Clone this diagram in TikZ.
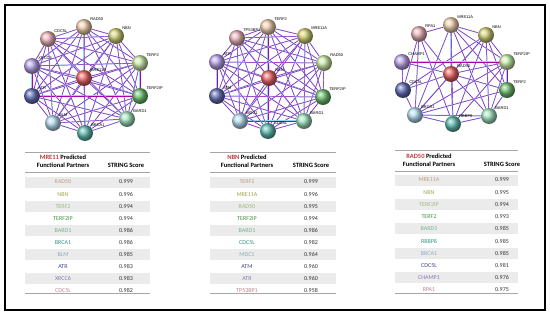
\documentclass[tikz,border=0pt]{standalone}
\usepackage{fontspec}
\setmainfont{Carlito}
\newfontfamily\netfont{Liberation Sans}
\usetikzlibrary{backgrounds}

\definecolor{hubred}{HTML}{E84A4A}
\definecolor{g1}{HTML}{EEC8A2}
\definecolor{g2}{HTML}{CACA62}
\definecolor{g3}{HTML}{C6E89C}
\definecolor{g4}{HTML}{58B45A}
\definecolor{g5}{HTML}{92E0B4}
\definecolor{g6}{HTML}{46B4A6}
\definecolor{g7}{HTML}{AAD8F0}
\definecolor{g8}{HTML}{4A58AA}
\definecolor{g9}{HTML}{AE96E6}
\definecolor{g10}{HTML}{E6A6AE}

\begin{document}
\begin{tikzpicture}[x=1pt, y=-1pt,
    prot/.style={circle, minimum size=16pt, inner sep=0pt, ball color=#1!85!white, label distance=0.5pt},
    lbl/.style={font=\netfont\fontsize{4}{4.5}\selectfont, inner sep=0.3pt},
    link/.style={draw=cyan!45, line width=0.3pt, double=violet!65!magenta, double distance=0.45pt},
    band/.style={fill=black!8, draw=none},
    rule/.style={draw=black!35, line width=0.5pt},
    head/.style={font=\fontsize{6.5}{7.5}\selectfont\bfseries, align=center, inner sep=0pt},
    gene/.style={font=\fontsize{6}{6.5}\selectfont, inner sep=0pt},
    score/.style={font=\fontsize{6}{6.5}\selectfont, text=black!80, inner sep=0pt}
  ]

  \useasboundingbox (0,0) rectangle (550,316);
  \draw[line width=1.2pt] (5,5) rectangle (545,310);

  % MRE11 network
  \node[prot=hubred, label={[lbl]north east:MRE11A}] (A0) at (84,78) {};
  \node[prot=g1, label={[lbl]north east:RAD50}] (A1) at (84,27) {};
  \node[prot=g2, label={[lbl]north east:NBN}] (A2) at (116,36) {};
  \node[prot=g3, label={[lbl]north east:TERF2}] (A3) at (140,63) {};
  \node[prot=g4, label={[lbl]north east:TERF2IP}] (A4) at (140,96) {};
  \node[prot=g5, label={[lbl]north east:BARD1}] (A5) at (127,119) {};
  \node[prot=g6, label={[lbl]north east:BRCA1}] (A6) at (85,133) {};
  \node[prot=g7, label={[lbl]north east:BLM}] (A7) at (53,123) {};
  \node[prot=g8, label={[lbl]north east:ATR}] (A8) at (32,96) {};
  \node[prot=g9, label={[lbl]north east:XRCC6}] (A9) at (32,66) {};
  \node[prot=g10, label={[lbl]north east:CDC5L}] (A10) at (48,39) {};

  % NBN network
  \node[prot=hubred, label={[lbl]north east:NBN}] (B0) at (269,78) {};
  \node[prot=g1, label={[lbl]north east:TERF2}] (B1) at (268,27) {};
  \node[prot=g2, label={[lbl]north east:MRE11A}] (B2) at (305,36) {};
  \node[prot=g3, label={[lbl]north east:RAD50}] (B3) at (324,63) {};
  \node[prot=g4, label={[lbl]north east:TERF2IP}] (B4) at (323,97) {};
  \node[prot=g5, label={[lbl]north east:BARD1}] (B5) at (304,121) {};
  \node[prot=g6, label={[lbl]north east:CDC5L}] (B6) at (268,131) {};
  \node[prot=g7, label={[lbl]north east:MDC1}] (B7) at (240,121) {};
  \node[prot=g8, label={[lbl]north east:ATM}] (B8) at (217,96) {};
  \node[prot=g9, label={[lbl]north east:ATR}] (B9) at (217,62) {};
  \node[prot=g10, label={[lbl]north east:TP53BP1}] (B10) at (237,38) {};

  % RAD50 network
  \node[prot=hubred, label={[lbl]north east:RAD50}] (C0) at (451,74) {};
  \node[prot=g1, label={[lbl]north east:MRE11A}] (C1) at (451,25) {};
  \node[prot=g2, label={[lbl]north east:NBN}] (C2) at (486,35) {};
  \node[prot=g3, label={[lbl]north east:TERF2IP}] (C3) at (507,62) {};
  \node[prot=g4, label={[lbl]north east:TERF2}] (C4) at (507,90) {};
  \node[prot=g5, label={[lbl]north east:BARD1}] (C5) at (489,116) {};
  \node[prot=g6, label={[lbl]north east:RBBP8}] (C6) at (453,124) {};
  \node[prot=g7, label={[lbl]north east:BRCA1}] (C7) at (415,115) {};
  \node[prot=g8, label={[lbl]north east:CDC5L}] (C8) at (403,90) {};
  \node[prot=g9, label={[lbl]north east:CHAMP1}] (C9) at (402,62) {};
  \node[prot=g10, label={[lbl]north east:RPA1}] (C10) at (419,34) {};

  \begin{scope}[on background layer]
    \foreach \p in {A,B} {
      \foreach \i in {0,...,9} {
        \pgfmathtruncatemacro\k{\i+1}
        \foreach \j in {\k,...,10} \draw[link] (\p\i) -- (\p\j);
      }
    }
    \foreach \j in {1,...,10} \draw[link] (C0) -- (C\j);
    \foreach \a/\b in {1/2, 1/3, 1/4, 1/5, 1/6, 1/7, 1/10, 2/3, 2/4, 2/5, 2/6, 2/7, 2/8,
        3/4, 3/5, 3/6, 3/7, 3/9, 4/5, 4/7, 5/6, 5/7, 6/7, 6/10, 7/8, 7/10, 8/9, 8/10}
      \draw[link] (C\a) -- (C\b);
  \end{scope}

  % MRE11 table
  \foreach \i in {0,2,...,8} \fill[band] (25,{176.5+12.1*\i}) rectangle (150,{187.5+12.1*\i});
  \draw[rule] (25,152) -- (150,152);
  \draw[rule] (25,172) -- (150,172);
  \draw[rule] (25,293) -- (150,293);
  \node[head] (ha) at (63,161) {{\color{hubred!80!black}MRE11} Predicted\\Functional Partners};
  \node[head] (sa) at (126,165) {STRING Score};
  \foreach \g/\s/\c [count=\i from 0] in {RAD50/0.999/g1, NBN/0.996/g2, TERF2/0.994/g3,
      TERF2IP/0.994/g4, BARD1/0.986/g5, BRCA1/0.986/g6, BLM/0.985/g7, ATR/0.983/g8,
      XRCC6/0.983/g9, CDC5L/0.982/g10} {
    \node[gene, text=\c!80!black] (ga\i) at (63,{182+12.1*\i}) {\g};
    \node[score] (va\i) at (126,{182+12.1*\i}) {\s};
  }

  % NBN table
  \foreach \i in {0,2,...,8} \fill[band] (210,{176.5+12.1*\i}) rectangle (336,{187.5+12.1*\i});
  \draw[rule] (210,152) -- (336,152);
  \draw[rule] (210,172) -- (336,172);
  \draw[rule] (210,293) -- (336,293);
  \node[head] (hb) at (247,161) {{\color{hubred!80!black}NBN} Predicted\\Functional Partners};
  \node[head] (sb) at (311,165) {STRING Score};
  \foreach \g/\s/\c [count=\i from 0] in {TERF2/0.999/g1, MRE11A/0.996/g2, RAD50/0.995/g3,
      TERF2IP/0.994/g4, BARD1/0.986/g5, CDC5L/0.982/g6, MDC1/0.964/g7, ATM/0.960/g8,
      ATR/0.960/g9, TP53BP1/0.958/g10} {
    \node[gene, text=\c!80!black] (gb\i) at (247,{182+12.1*\i}) {\g};
    \node[score] (vb\i) at (311,{182+12.1*\i}) {\s};
  }

  % RAD50 table
  \foreach \i in {0,2,...,8} \fill[band] (395,{174.5+12.2*\i}) rectangle (518,{185.5+12.2*\i});
  \draw[rule] (395,150) -- (518,150);
  \draw[rule] (395,171) -- (518,171);
  \draw[rule] (395,293) -- (518,293);
  \node[head] (hc) at (429,160) {{\color{hubred!80!black}RAD50} Predicted\\Functional Partners};
  \node[head] (sc) at (502,164) {STRING Score};
  \foreach \g/\s/\c [count=\i from 0] in {MRE11A/0.999/g1, NBN/0.995/g2, TERF2IP/0.994/g3,
      TERF2/0.993/g4, BARD1/0.985/g5, RBBP8/0.985/g6, BRCA1/0.985/g7, CDC5L/0.981/g8,
      CHAMP1/0.976/g9, RPA1/0.975/g10} {
    \node[gene, text=\c!80!black] (gc\i) at (429,{180+12.2*\i}) {\g};
    \node[score] (vc\i) at (502,{180+12.2*\i}) {\s};
  }

\end{tikzpicture}
\end{document}
